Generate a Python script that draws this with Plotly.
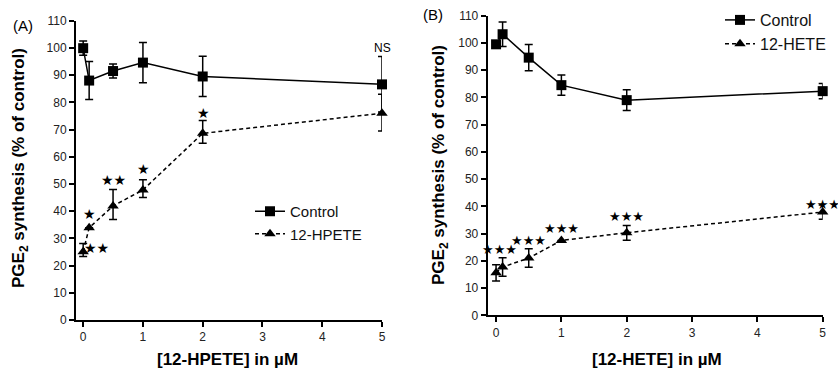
import plotly.graph_objects as go

# ---------------- data ----------------
# Panel A
a_x = [0, 0.1, 0.5, 1, 2, 5]
a_ctrl = [99.9, 88.0, 91.5, 94.6, 89.5, 86.6]
a_ctrl_err = [2.6, 7.0, 2.6, 7.4, 7.4, 10.2]
a_hpete = [25.1, 33.9, 41.9, 47.8, 68.6, 76.0]
a_hpete_up = [3.0, 0.0, 6.1, 3.7, 4.7, 7.0]
a_hpete_dn = [1.8, 0.0, 5.0, 2.8, 3.6, 6.5]

a_star_x = [0.22, 0.105, 0.505, 1.005, 2.005, 5.0]
a_star_y = [26.4, 38.9, 51.5, 55.4, 76.2, 99.9]
a_star_txt = ["★★", "★", "★★", "★", "★", "NS"]

# Panel B
b_x = [0, 0.1, 0.5, 1, 2, 5]
b_ctrl = [99.5, 103.2, 94.6, 84.5, 79.0, 82.3]
b_ctrl_err = [0.0, 4.5, 4.8, 3.7, 3.8, 2.8]
b_hete = [15.6, 17.7, 21.0, 27.5, 30.3, 37.9]
b_hete_err = [3.0, 3.4, 3.4, 0.0, 2.7, 2.6]

b_star_x = [0.06, 0.5, 1.0, 2.0, 5.0]
b_star_y = [24.2, 27.6, 31.8, 36.1, 40.5]
b_star_txt = ["★★★", "★★★", "★★★", "★★★", "★★★"]

y_ticks = list(range(0, 111, 10))
x_ticks = [0, 1, 2, 3, 4, 5]

FONT = "Liberation Sans, Arial, sans-serif"
W, H = 838, 372

fig = go.Figure()

err_style = dict(thickness=1.5, width=4, color="black")

fig.add_trace(go.Scatter(
    x=a_x, y=a_ctrl, name="Control", mode="lines+markers",
    line=dict(color="black", width=1.5),
    marker=dict(symbol="square", size=10, color="black"),
    error_y=dict(type="data", array=a_ctrl_err, **err_style),
    xaxis="x", yaxis="y", legend="legend", cliponaxis=False))
fig.add_trace(go.Scatter(
    x=a_x, y=a_hpete, name="12-HPETE", mode="lines+markers",
    line=dict(color="black", width=1.5, dash="4px,3px"),
    marker=dict(symbol="triangle-up", size=10, color="black"),
    error_y=dict(type="data", array=a_hpete_up, arrayminus=a_hpete_dn, **err_style),
    xaxis="x", yaxis="y", legend="legend", cliponaxis=False))

fig.add_trace(go.Scatter(
    x=b_x, y=b_ctrl, name="Control", mode="lines+markers",
    line=dict(color="black", width=1.5),
    marker=dict(symbol="square", size=10, color="black"),
    error_y=dict(type="data", array=b_ctrl_err, **err_style),
    xaxis="x2", yaxis="y2", legend="legend2", cliponaxis=False))
fig.add_trace(go.Scatter(
    x=b_x, y=b_hete, name="12-HETE", mode="lines+markers",
    line=dict(color="black", width=1.5, dash="4px,3px"),
    marker=dict(symbol="triangle-up", size=10, color="black"),
    error_y=dict(type="data", array=b_hete_err, **err_style),
    xaxis="x2", yaxis="y2", legend="legend2", cliponaxis=False))

axis_common = dict(
    showline=True, linecolor="black", linewidth=2,
    ticks="outside", ticklen=5, tickwidth=1.5, tickcolor="black",
    showgrid=False, zeroline=False, automargin=False,
    tickfont=dict(family=FONT, size=12, color="#222"),
)

fig.update_layout(
    width=W, height=H,
    margin=dict(l=0, r=0, t=0, b=0, pad=0, autoexpand=False),
    plot_bgcolor="white", paper_bgcolor="white",
    xaxis=dict(domain=[76 / W, 382 / W], range=[-0.12, 5.0], tickvals=x_ticks,
               anchor="y", **axis_common),
    yaxis=dict(domain=[(H - 320) / H, (H - 20.7) / H], range=[0, 110], tickvals=y_ticks,
               anchor="x", **axis_common),
    xaxis2=dict(domain=[487.7 / W, 822.7 / W], range=[-0.128, 5.0], tickvals=x_ticks,
                anchor="y2", **axis_common),
    yaxis2=dict(domain=[(H - 315.3) / H, (H - 15.7) / H], range=[0, 110], tickvals=y_ticks,
                anchor="x2", **axis_common),
    legend=dict(x=250 / W, y=(H - 195) / H, xanchor="left", yanchor="top",
                bgcolor="rgba(0,0,0,0)", font=dict(family=FONT, size=15, color="#111")),
    legend2=dict(x=720 / W, y=(H - 3) / H, xanchor="left", yanchor="top",
                 bgcolor="rgba(0,0,0,0)", font=dict(family=FONT, size=16, color="#111")),
    showlegend=True,
)

ann = []
for x, y, t in zip(a_star_x, a_star_y, a_star_txt):
    ann.append(dict(x=x, y=y, xref="x", yref="y", text=t, showarrow=False,
                    xanchor="center", yanchor="middle",
                    font=dict(family="DejaVu Sans" if t != "NS" else FONT,
                              size=14 if t != "NS" else 12, color="black")))
for x, y, t in zip(b_star_x, b_star_y, b_star_txt):
    ann.append(dict(x=x, y=y, xref="x2", yref="y2", text=t, showarrow=False,
                    xanchor="center", yanchor="middle",
                    font=dict(family="DejaVu Sans", size=13, color="black")))

title_font = dict(family=FONT, size=17, color="black")
paper_labels = [
    (20, 168, "<b>PGE<sub>2</sub> synthesis (% of control)</b>", -90, title_font),
    (440, 165, "<b>PGE<sub>2</sub> synthesis (% of control)</b>", -90, title_font),
    (227, 359.5, "<b>[12-HPETE] in µM</b>", 0, title_font),
    (656.7, 359.5, "<b>[12-HETE] in µM</b>", 0, title_font),
    (23, 25, "(A)", 0, dict(family=FONT, size=15, color="black")),
    (433, 15, "(B)", 0, dict(family=FONT, size=15, color="black")),
]
for px, py, t, ang, f in paper_labels:
    ann.append(dict(x=px / W, y=(H - py) / H, xref="paper", yref="paper", text=t,
                    textangle=ang, showarrow=False, xanchor="center", yanchor="middle",
                    font=f))
fig.update_layout(annotations=ann)

fig.write_html("out.html")
